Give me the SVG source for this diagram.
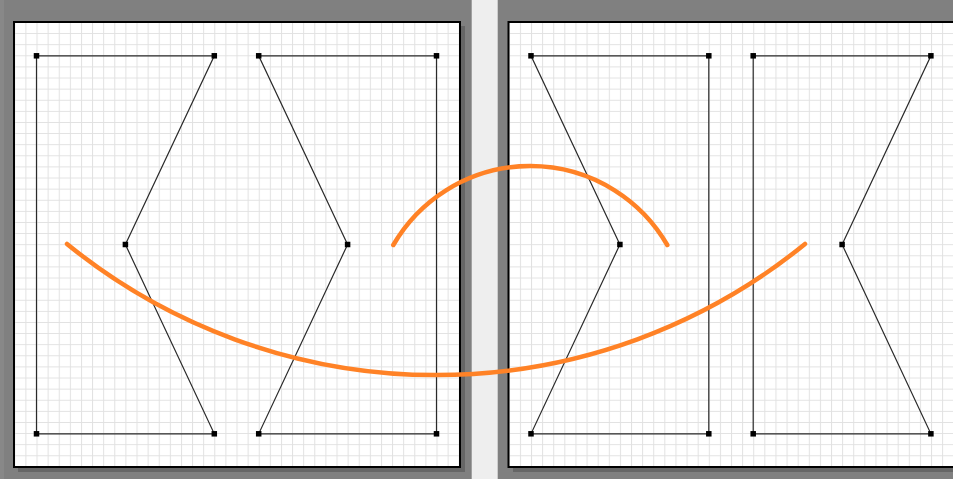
<svg xmlns="http://www.w3.org/2000/svg" width="953" height="479" viewBox="0 0 953 479">
  <style>
    .shadow { fill: #666666; }
    .panel { fill: #ffffff; }
    .frame { fill: none; stroke: #000000; stroke-width: 2; }
    .shape { fill: none; stroke: #2a2a2a; stroke-width: 1.2; stroke-linejoin: miter; }
    .handle { fill: #000000; }
    .curve { fill: none; stroke: #ff8226; stroke-width: 4.5; stroke-linecap: round; }
  </style>
  <defs>
    <pattern id="gridL" patternUnits="userSpaceOnUse" x="14.3" y="22" width="11.111" height="11.111">
      <path d="M0,0.5 H11.111 M0.5,0 V11.111" fill="none" stroke="#e1e1e1" stroke-width="1"/>
    </pattern>
    <pattern id="gridR" patternUnits="userSpaceOnUse" x="508.8" y="22" width="11.111" height="11.111">
      <path d="M0,0.5 H11.111 M0.5,0 V11.111" fill="none" stroke="#e1e1e1" stroke-width="1"/>
    </pattern>
    <rect id="h" x="-2.75" y="-2.75" width="5.5" height="5.5"/>
  </defs>

  <!-- background -->
  <rect x="0" y="0" width="953" height="479" fill="#808080"/>
  <rect x="0" y="0" width="4" height="479" fill="#888888"/>
  <rect x="471.7" y="0" width="26" height="479" fill="#eeeeee"/>

  <!-- left panel -->
  <g id="panel-left">
    <rect class="shadow" x="18" y="26" width="447" height="446"/>
    <rect class="panel" x="14" y="22" width="446" height="445"/>
    <rect x="14" y="22" width="446" height="445" fill="url(#gridL)"/>
    <rect class="frame" x="14" y="22" width="446" height="445"/>
  </g>

  <!-- right panel -->
  <g id="panel-right">
    <rect class="shadow" x="513" y="26" width="460" height="446"/>
    <rect class="panel" x="508.5" y="22" width="460" height="445"/>
    <rect x="508.5" y="22" width="460" height="445" fill="url(#gridR)"/>
    <rect class="frame" x="508.5" y="22" width="460" height="445"/>
  </g>

  <!-- shapes -->
  <g id="shape-1">
    <polygon class="shape" points="36.5,55.8 214.3,55.8 125.4,244.5 214.3,433.8 36.5,433.8"/>
    <g class="handle">
      <use href="#h" x="36.5" y="55.8"/><use href="#h" x="214.3" y="55.8"/>
      <use href="#h" x="125.4" y="244.5"/><use href="#h" x="214.3" y="433.8"/>
      <use href="#h" x="36.5" y="433.8"/>
    </g>
  </g>
  <g id="shape-2">
    <polygon class="shape" points="258.7,55.8 436.5,55.8 436.5,433.8 258.7,433.8 347.6,244.5"/>
    <g class="handle">
      <use href="#h" x="258.7" y="55.8"/><use href="#h" x="436.5" y="55.8"/>
      <use href="#h" x="436.5" y="433.8"/><use href="#h" x="258.7" y="433.8"/>
      <use href="#h" x="347.6" y="244.5"/>
    </g>
  </g>
  <g id="shape-3">
    <polygon class="shape" points="531,55.8 708.8,55.8 708.8,433.8 531,433.8 619.9,244.5"/>
    <g class="handle">
      <use href="#h" x="531" y="55.8"/><use href="#h" x="708.8" y="55.8"/>
      <use href="#h" x="708.8" y="433.8"/><use href="#h" x="531" y="433.8"/>
      <use href="#h" x="619.9" y="244.5"/>
    </g>
  </g>
  <g id="shape-4">
    <polygon class="shape" points="753.2,55.8 930.9,55.8 842.1,244.5 930.9,433.8 753.2,433.8"/>
    <g class="handle">
      <use href="#h" x="753.2" y="55.8"/><use href="#h" x="930.9" y="55.8"/>
      <use href="#h" x="842.1" y="244.5"/><use href="#h" x="930.9" y="433.8"/>
      <use href="#h" x="753.2" y="433.8"/>
    </g>
  </g>

  <!-- connectors / curves -->
  <g id="connectors">
    <path class="curve" d="M67,244 A585,585 0 0 0 805,244"/>
    <path class="curve" d="M393.3,245 A158.3,158.3 0 0 1 667.3,245"/>
  </g>
</svg>
